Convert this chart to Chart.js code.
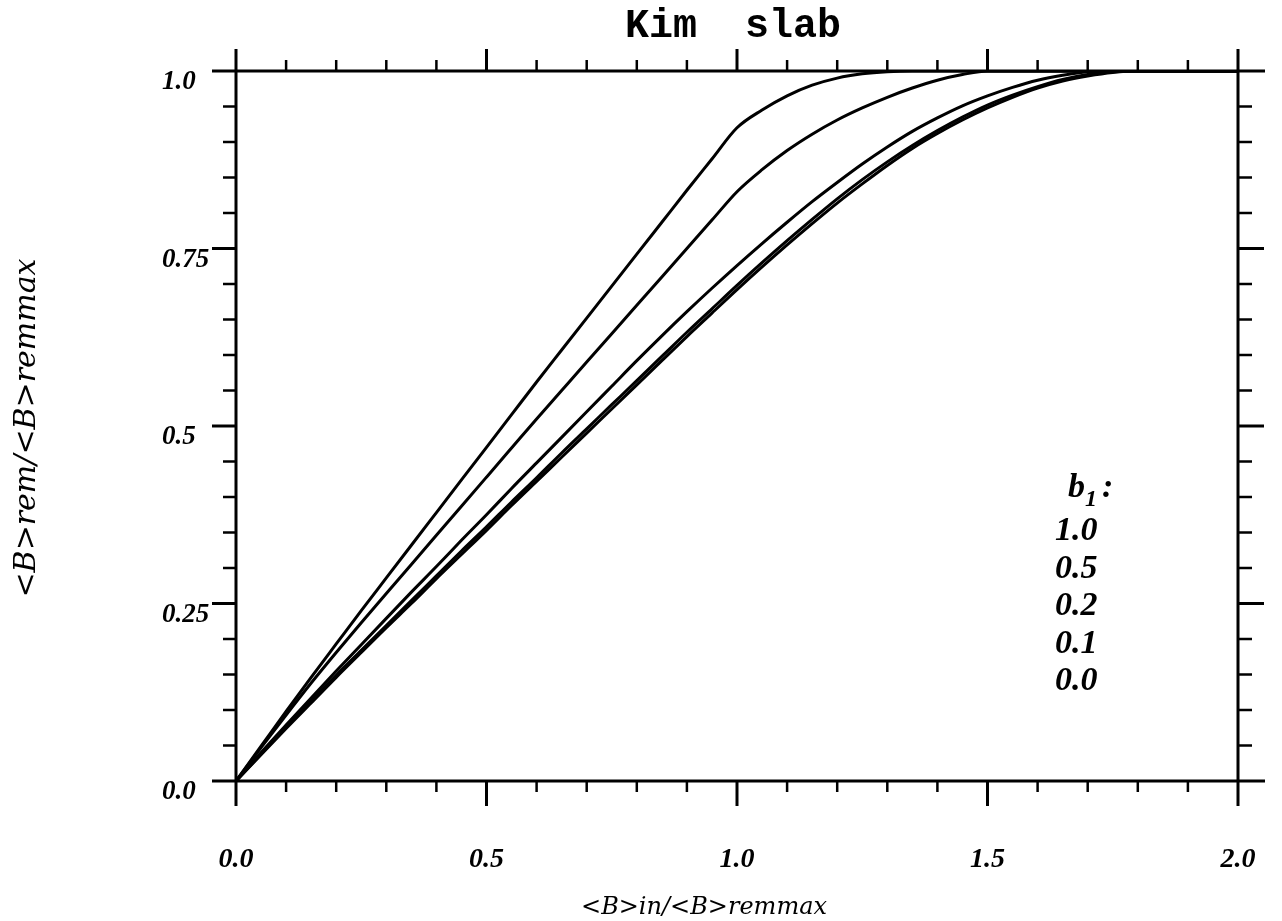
<!DOCTYPE html>
<html>
<head>
<meta charset="utf-8">
<title>Kim slab</title>
<script src="https://cdn.jsdelivr.net/npm/chart.js@4.4.0/dist/chart.umd.min.js"></script>
<style>
  html, body { margin: 0; padding: 0; background: #fff; }
  #wrap { width: 1282px; height: 921px; }
</style>
</head>
<body>
<div id="wrap"><canvas id="kim" width="1282" height="921"></canvas></div>
<script>
// <B>in/<B>remmax
const bIn = [
  0.00, 0.05, 0.10, 0.15, 0.20, 0.25, 0.30, 0.35, 0.40, 0.45,
  0.50, 0.55, 0.60, 0.65, 0.70, 0.75, 0.80, 0.85, 0.90, 0.95,
  1.00, 1.05, 1.10, 1.15, 1.20, 1.25, 1.30, 1.35, 1.40, 1.45,
  1.50, 1.55, 1.60, 1.65, 1.70, 1.75, 1.80, 1.85, 1.90, 1.95, 2.00
];

// <B>rem/<B>remmax pour chaque b1
const rem_b10 = [
  0.000, 0.049, 0.098, 0.146, 0.193, 0.240, 0.286, 0.332, 0.378, 0.424,
  0.470, 0.516, 0.562, 0.607, 0.652, 0.697, 0.742, 0.787, 0.832, 0.876,
  0.920, 0.945, 0.965, 0.980, 0.990, 0.996, 0.999, 1.000, 1.000, 1.000,
  1.000, 1.000, 1.000, 1.000, 1.000, 1.000, 1.000, 1.000, 1.000, 1.000, 1.000
];
const rem_b05 = [
  0.000, 0.047, 0.093, 0.138, 0.181, 0.223, 0.264, 0.305, 0.346, 0.387,
  0.428, 0.469, 0.510, 0.550, 0.590, 0.630, 0.670, 0.710, 0.750, 0.790,
  0.830, 0.861, 0.888, 0.911, 0.931, 0.948, 0.963, 0.976, 0.987, 0.995,
  1.000, 1.000, 1.000, 1.000, 1.000, 1.000, 1.000, 1.000, 1.000, 1.000, 1.000
];
const rem_b02 = [
  0.000, 0.040, 0.079, 0.117, 0.155, 0.192, 0.229, 0.266, 0.302, 0.339,
  0.375, 0.412, 0.448, 0.484, 0.520, 0.556, 0.592, 0.627, 0.661, 0.694,
  0.726, 0.757, 0.787, 0.816, 0.843, 0.869, 0.893, 0.915, 0.934, 0.951,
  0.965, 0.977, 0.987, 0.994, 0.999, 1.000, 1.000, 1.000, 1.000, 1.000, 1.000
];
const rem_b01 = [
  0.000, 0.038, 0.076, 0.113, 0.149, 0.184, 0.219, 0.254, 0.289, 0.324,
  0.358, 0.393, 0.427, 0.462, 0.496, 0.530, 0.564, 0.598, 0.632, 0.665,
  0.698, 0.730, 0.761, 0.791, 0.820, 0.847, 0.872, 0.895, 0.916, 0.935,
  0.952, 0.966, 0.978, 0.988, 0.995, 0.999, 1.000, 1.000, 1.000, 1.000, 1.000
];
const rem_b00 = [
  0.000, 0.037, 0.074, 0.110, 0.146, 0.181, 0.216, 0.250, 0.285, 0.319,
  0.353, 0.388, 0.422, 0.456, 0.490, 0.524, 0.558, 0.592, 0.626, 0.659,
  0.692, 0.724, 0.755, 0.785, 0.814, 0.841, 0.867, 0.891, 0.912, 0.931,
  0.948, 0.963, 0.976, 0.986, 0.993, 0.998, 1.000, 1.000, 1.000, 1.000, 1.000
];

const b1Labels = ['1.0', '0.5', '0.2', '0.1', '0.0'];
const xTickLabels = ['0.0', '0.5', '1.0', '1.5', '2.0'];
const xTickValues = [0, 0.5, 1.0, 1.5, 2.0];
const yTickLabels = ['0.0', '0.25', '0.5', '0.75', '1.0'];
const yTickValues = [0, 0.25, 0.5, 0.75, 1.0];

const series = [rem_b10, rem_b05, rem_b02, rem_b01, rem_b00];

const serif = '"Liberation Serif", "Times New Roman", serif';
const titleSerif = '"DejaVu Serif", serif';

// cadre avec graduations sur les quatre côtés, textes et légende b1
const cadre = {
  id: 'cadre',
  afterDatasetsDraw(chart) {
    const ctx = chart.ctx;
    const xs = chart.scales.x;
    const ys = chart.scales.y;
    const { left, right, top, bottom } = chart.chartArea;

    ctx.save();
    ctx.strokeStyle = '#000';
    ctx.lineCap = 'butt';

    const seg = (x1, y1, x2, y2, w) => {
      ctx.lineWidth = w;
      ctx.beginPath();
      ctx.moveTo(x1, y1);
      ctx.lineTo(x2, y2);
      ctx.stroke();
    };

    // bords du cadre
    seg(left - 24, top, right + 27, top, 3);
    seg(left - 24, bottom, right + 27, bottom, 3);
    seg(left, top - 22, left, bottom + 25, 3);
    seg(right, top - 22, right, bottom + 25, 3);

    // graduations en x : tous les 0.1, majeures tous les 0.5
    for (let i = 1; i < 20; i++) {
      const v = i / 10;
      const px = xs.getPixelForValue(v);
      const major = i % 5 === 0;
      seg(px, top, px, top - (major ? 22 : 11), major ? 3 : 2.5);
      seg(px, bottom, px, bottom + (major ? 25 : 11), major ? 3 : 2.5);
    }
    // graduations en y : tous les 0.05, majeures tous les 0.25
    for (let i = 1; i < 20; i++) {
      const v = i / 20;
      const py = ys.getPixelForValue(v);
      const major = i % 5 === 0;
      seg(left, py, left - (major ? 24 : 13), py, major ? 3 : 2.5);
      seg(right, py, right + (major ? 26 : 14), py, major ? 3 : 2.5);
    }

    ctx.fillStyle = '#000';

    // étiquettes des axes
    ctx.font = 'italic bold 28px ' + serif;
    ctx.textAlign = 'center';
    ctx.textBaseline = 'alphabetic';
    xTickLabels.forEach((t, i) => {
      ctx.fillText(t, xs.getPixelForValue(xTickValues[i]), bottom + 86);
    });
    ctx.textAlign = 'left';
    ctx.font = 'italic bold 27px ' + serif;
    yTickLabels.forEach((t, i) => {
      ctx.fillText(t, 162, ys.getPixelForValue(yTickValues[i]) + 18);
    });

    // titre
    ctx.font = 'bold 40px "Liberation Mono", "DejaVu Sans Mono", monospace';
    ctx.textAlign = 'center';
    ctx.fillText('Kim  slab', 733, 37);

    // titres des axes
    ctx.font = 'italic 24px ' + titleSerif;
    ctx.fillText('<B>in/<B>remmax', 704, 914);

    ctx.save();
    ctx.translate(35, 428);
    ctx.rotate(-Math.PI / 2);
    ctx.font = 'italic 30px ' + titleSerif;
    ctx.fillText('<B>rem/<B>remmax', 0, 0);
    ctx.restore();

    // légende b1
    ctx.textAlign = 'left';
    ctx.font = 'italic bold 34px ' + serif;
    ctx.fillText('b', 1068, 497);
    ctx.font = 'italic bold 24px ' + serif;
    ctx.fillText('1', 1085, 506);
    ctx.font = 'italic bold 34px ' + serif;
    ctx.fillText(':', 1102, 497);
    b1Labels.forEach((t, i) => {
      ctx.fillText(t, 1055, 540 + i * 37.5);
    });

    ctx.restore();
  }
};

const ctx = document.getElementById('kim').getContext('2d');

new Chart(ctx, {
  type: 'line',
  data: {
    datasets: series.map((vals, k) => ({
      label: 'b1 = ' + b1Labels[k],
      data: bIn.map((x, i) => ({ x: x, y: vals[i] })),
      borderColor: '#000',
      borderWidth: 3,
      pointRadius: 0,
      fill: false,
      cubicInterpolationMode: 'monotone'
    }))
  },
  options: {
    responsive: false,
    animation: false,
    devicePixelRatio: 1,
    layout: { padding: { left: 236, right: 44, top: 71, bottom: 140 } },
    plugins: {
      legend: { display: false },
      tooltip: { enabled: false },
      title: { display: false }
    },
    scales: {
      x: { type: 'linear', min: 0, max: 2, display: false },
      y: { type: 'linear', min: 0, max: 1, display: false }
    }
  },
  plugins: [cadre]
});
</script>
</body>
</html>
